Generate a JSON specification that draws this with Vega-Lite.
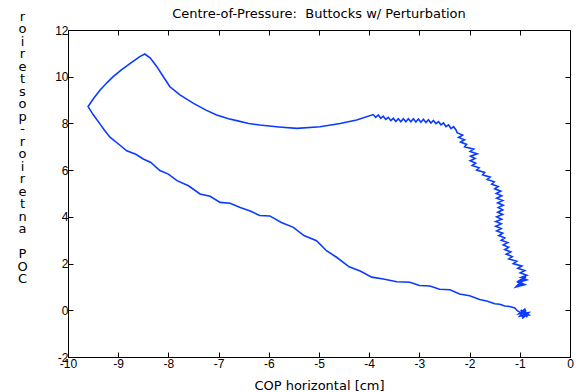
{
  "$schema": "https://vega.github.io/schema/vega-lite/v6.json",
  "width": 502,
  "height": 327,
  "autosize": "none",
  "padding": {"left": 68, "top": 30, "right": 9, "bottom": 35},
  "background": "white",
  "config": {
    "view": {"stroke": "black", "strokeWidth": 1},
    "font": "Liberation Sans",
    "axis": {
      "grid": false,
      "domainColor": "black",
      "tickColor": "black",
      "tickSize": -5,
      "labelColor": "black",
      "labelFont": "Liberation Sans",
      "labelFontSize": 12,
      "titleColor": "black",
      "titleFont": "DejaVu Sans",
      "titleFontSize": 13,
      "titleFontWeight": "normal"
    }
  },
  "title": {
    "text": "Centre-of-Pressure:\u00a0 Buttocks w/ Perturbation",
    "font": "DejaVu Sans",
    "fontSize": 13,
    "fontWeight": "normal",
    "color": "black",
    "anchor": "middle",
    "offset": -11
  },
  "data": {
    "values": [
      {"t": 1, "x": -0.85, "y": -0.3},
      {"t": 2, "x": -0.95, "y": -0.05},
      {"t": 3, "x": -0.82, "y": -0.2},
      {"t": 4, "x": -1.0, "y": -0.25},
      {"t": 5, "x": -0.88, "y": 0.0},
      {"t": 6, "x": -0.95, "y": -0.35},
      {"t": 7, "x": -0.82, "y": -0.1},
      {"t": 8, "x": -1.02, "y": -0.15},
      {"t": 9, "x": -0.9, "y": 0.05},
      {"t": 10, "x": -0.86, "y": -0.28},
      {"t": 11, "x": -0.98, "y": 0.02},
      {"t": 12, "x": -0.9, "y": -0.22},
      {"t": 13, "x": -1.05, "y": -0.02},
      {"t": 14, "x": -1.1, "y": 0.1},
      {"t": 15, "x": -1.2, "y": 0.16},
      {"t": 16, "x": -1.3, "y": 0.18},
      {"t": 17, "x": -1.4, "y": 0.26},
      {"t": 18, "x": -1.5, "y": 0.28},
      {"t": 19, "x": -1.66, "y": 0.4},
      {"t": 20, "x": -1.8, "y": 0.46},
      {"t": 21, "x": -2.0, "y": 0.62},
      {"t": 22, "x": -2.2, "y": 0.7},
      {"t": 23, "x": -2.39, "y": 0.88},
      {"t": 24, "x": -2.6, "y": 0.9},
      {"t": 25, "x": -2.79, "y": 1.04},
      {"t": 26, "x": -3.0, "y": 1.06},
      {"t": 27, "x": -3.19, "y": 1.2},
      {"t": 28, "x": -3.45, "y": 1.22},
      {"t": 29, "x": -3.72, "y": 1.34},
      {"t": 30, "x": -3.95, "y": 1.42},
      {"t": 31, "x": -4.18, "y": 1.68},
      {"t": 32, "x": -4.4, "y": 1.86},
      {"t": 33, "x": -4.65, "y": 2.27},
      {"t": 34, "x": -4.85, "y": 2.55},
      {"t": 35, "x": -5.05, "y": 2.98},
      {"t": 36, "x": -5.3, "y": 3.2},
      {"t": 37, "x": -5.51, "y": 3.55},
      {"t": 38, "x": -5.75, "y": 3.76},
      {"t": 39, "x": -5.98, "y": 4.04},
      {"t": 40, "x": -6.18, "y": 4.06},
      {"t": 41, "x": -6.37, "y": 4.25},
      {"t": 42, "x": -6.57, "y": 4.4},
      {"t": 43, "x": -6.77, "y": 4.58},
      {"t": 44, "x": -6.97, "y": 4.62},
      {"t": 45, "x": -7.17, "y": 4.88},
      {"t": 46, "x": -7.37, "y": 4.98},
      {"t": 47, "x": -7.6, "y": 5.33},
      {"t": 48, "x": -7.83, "y": 5.55},
      {"t": 49, "x": -8.0, "y": 5.83},
      {"t": 50, "x": -8.17, "y": 5.98},
      {"t": 51, "x": -8.35, "y": 6.33},
      {"t": 52, "x": -8.5, "y": 6.48},
      {"t": 53, "x": -8.65, "y": 6.68},
      {"t": 54, "x": -8.83, "y": 6.83},
      {"t": 55, "x": -9.0, "y": 7.13},
      {"t": 56, "x": -9.16, "y": 7.4},
      {"t": 57, "x": -9.28, "y": 7.73},
      {"t": 58, "x": -9.36, "y": 7.97},
      {"t": 59, "x": -9.5, "y": 8.38},
      {"t": 60, "x": -9.6, "y": 8.72},
      {"t": 61, "x": -9.48, "y": 9.1},
      {"t": 62, "x": -9.36, "y": 9.43},
      {"t": 63, "x": -9.22, "y": 9.75},
      {"t": 64, "x": -9.1, "y": 10.0},
      {"t": 65, "x": -8.93, "y": 10.3},
      {"t": 66, "x": -8.76, "y": 10.57},
      {"t": 67, "x": -8.57, "y": 10.86},
      {"t": 68, "x": -8.47, "y": 10.97},
      {"t": 69, "x": -8.36, "y": 10.8},
      {"t": 70, "x": -8.23, "y": 10.43},
      {"t": 71, "x": -8.1, "y": 10.0},
      {"t": 72, "x": -7.97, "y": 9.57},
      {"t": 73, "x": -7.77, "y": 9.22},
      {"t": 74, "x": -7.5, "y": 8.86},
      {"t": 75, "x": -7.25, "y": 8.57},
      {"t": 76, "x": -7.04, "y": 8.36},
      {"t": 77, "x": -6.8, "y": 8.2},
      {"t": 78, "x": -6.64, "y": 8.12},
      {"t": 79, "x": -6.4, "y": 8.0},
      {"t": 80, "x": -6.18, "y": 7.93},
      {"t": 81, "x": -5.8, "y": 7.85},
      {"t": 82, "x": -5.44, "y": 7.79},
      {"t": 83, "x": -4.98, "y": 7.86},
      {"t": 84, "x": -4.58, "y": 8.0},
      {"t": 85, "x": -4.25, "y": 8.15},
      {"t": 86, "x": -3.92, "y": 8.38},
      {"t": 87, "x": -3.87, "y": 8.26},
      {"t": 88, "x": -3.82, "y": 8.36},
      {"t": 89, "x": -3.77, "y": 8.22},
      {"t": 90, "x": -3.72, "y": 8.31},
      {"t": 91, "x": -3.67, "y": 8.17},
      {"t": 92, "x": -3.62, "y": 8.26},
      {"t": 93, "x": -3.57, "y": 8.12},
      {"t": 94, "x": -3.52, "y": 8.22},
      {"t": 95, "x": -3.47, "y": 8.08},
      {"t": 96, "x": -3.42, "y": 8.2},
      {"t": 97, "x": -3.37, "y": 8.07},
      {"t": 98, "x": -3.32, "y": 8.2},
      {"t": 99, "x": -3.27, "y": 8.07},
      {"t": 100, "x": -3.22, "y": 8.2},
      {"t": 101, "x": -3.17, "y": 8.07},
      {"t": 102, "x": -3.12, "y": 8.2},
      {"t": 103, "x": -3.07, "y": 8.06},
      {"t": 104, "x": -3.02, "y": 8.19},
      {"t": 105, "x": -2.97, "y": 8.05},
      {"t": 106, "x": -2.92, "y": 8.18},
      {"t": 107, "x": -2.87, "y": 8.04},
      {"t": 108, "x": -2.82, "y": 8.16},
      {"t": 109, "x": -2.77, "y": 8.02},
      {"t": 110, "x": -2.72, "y": 8.13},
      {"t": 111, "x": -2.67, "y": 7.99},
      {"t": 112, "x": -2.62, "y": 8.08},
      {"t": 113, "x": -2.57, "y": 7.94},
      {"t": 114, "x": -2.52, "y": 8.02},
      {"t": 115, "x": -2.47, "y": 7.86},
      {"t": 116, "x": -2.42, "y": 7.94},
      {"t": 117, "x": -2.37, "y": 7.78},
      {"t": 118, "x": -2.32, "y": 7.86},
      {"t": 119, "x": -2.27, "y": 7.72},
      {"t": 120, "x": -2.25, "y": 7.6},
      {"t": 121, "x": -2.14, "y": 7.5},
      {"t": 122, "x": -2.22, "y": 7.4},
      {"t": 123, "x": -2.1, "y": 7.3},
      {"t": 124, "x": -2.18, "y": 7.2},
      {"t": 125, "x": -2.06, "y": 7.1},
      {"t": 126, "x": -2.1, "y": 7.0},
      {"t": 127, "x": -1.92, "y": 6.9},
      {"t": 128, "x": -1.99, "y": 6.8},
      {"t": 129, "x": -1.85, "y": 6.7},
      {"t": 130, "x": -1.98, "y": 6.6},
      {"t": 131, "x": -1.89, "y": 6.5},
      {"t": 132, "x": -1.99, "y": 6.4},
      {"t": 133, "x": -1.88, "y": 6.3},
      {"t": 134, "x": -1.95, "y": 6.2},
      {"t": 135, "x": -1.81, "y": 6.1},
      {"t": 136, "x": -1.86, "y": 6.0},
      {"t": 137, "x": -1.7, "y": 5.9},
      {"t": 138, "x": -1.74, "y": 5.8},
      {"t": 139, "x": -1.59, "y": 5.7},
      {"t": 140, "x": -1.65, "y": 5.6},
      {"t": 141, "x": -1.51, "y": 5.5},
      {"t": 142, "x": -1.56, "y": 5.4},
      {"t": 143, "x": -1.43, "y": 5.3},
      {"t": 144, "x": -1.5, "y": 5.2},
      {"t": 145, "x": -1.38, "y": 5.1},
      {"t": 146, "x": -1.47, "y": 5.0},
      {"t": 147, "x": -1.36, "y": 4.9},
      {"t": 148, "x": -1.46, "y": 4.8},
      {"t": 149, "x": -1.34, "y": 4.7},
      {"t": 150, "x": -1.44, "y": 4.6},
      {"t": 151, "x": -1.33, "y": 4.5},
      {"t": 152, "x": -1.43, "y": 4.4},
      {"t": 153, "x": -1.34, "y": 4.3},
      {"t": 154, "x": -1.44, "y": 4.2},
      {"t": 155, "x": -1.34, "y": 4.1},
      {"t": 156, "x": -1.46, "y": 4.0},
      {"t": 157, "x": -1.36, "y": 3.9},
      {"t": 158, "x": -1.48, "y": 3.8},
      {"t": 159, "x": -1.37, "y": 3.7},
      {"t": 160, "x": -1.48, "y": 3.6},
      {"t": 161, "x": -1.37, "y": 3.5},
      {"t": 162, "x": -1.46, "y": 3.4},
      {"t": 163, "x": -1.34, "y": 3.3},
      {"t": 164, "x": -1.42, "y": 3.2},
      {"t": 165, "x": -1.3, "y": 3.1},
      {"t": 166, "x": -1.37, "y": 3.0},
      {"t": 167, "x": -1.24, "y": 2.9},
      {"t": 168, "x": -1.33, "y": 2.8},
      {"t": 169, "x": -1.22, "y": 2.7},
      {"t": 170, "x": -1.3, "y": 2.6},
      {"t": 171, "x": -1.18, "y": 2.5},
      {"t": 172, "x": -1.27, "y": 2.4},
      {"t": 173, "x": -1.15, "y": 2.3},
      {"t": 174, "x": -1.22, "y": 2.2},
      {"t": 175, "x": -1.06, "y": 2.1},
      {"t": 176, "x": -1.13, "y": 2.0},
      {"t": 177, "x": -0.96, "y": 1.9},
      {"t": 178, "x": -1.04, "y": 1.8},
      {"t": 179, "x": -0.9, "y": 1.7},
      {"t": 180, "x": -0.99, "y": 1.6},
      {"t": 181, "x": -0.86, "y": 1.5},
      {"t": 182, "x": -0.98, "y": 1.4},
      {"t": 183, "x": -0.86, "y": 1.3},
      {"t": 184, "x": -1.02, "y": 1.2},
      {"t": 185, "x": -0.9, "y": 1.1},
      {"t": 186, "x": -1.08, "y": 1.0},
      {"t": 187, "x": -0.95, "y": 1.3},
      {"t": 188, "x": -1.06, "y": 1.2},
      {"t": 189, "x": -0.88, "y": 1.45},
      {"t": 190, "x": -1.04, "y": 1.0},
      {"t": 191, "x": -0.96, "y": 1.15}
    ]
  },
  "layer": [
    {
      "mark": {"type": "line", "color": "#0a3bff", "strokeWidth": 1.6},
      "encoding": {
        "order": {"field": "t", "type": "quantitative"},
        "x": {
          "field": "x",
          "type": "quantitative",
          "scale": {"domain": [-10, 0], "nice": false, "zero": false},
          "axis": {
            "orient": "bottom",
            "values": [-10, -9, -8, -7, -6, -5, -4, -3, -2, -1, 0],
            "labelExpr": "'' + datum.value",
            "labelPadding": 6,
            "labelFlush": false,
            "title": "COP horizontal [cm]",
            "titleY": 32,
            "titleBaseline": "alphabetic"
          }
        },
        "y": {
          "field": "y",
          "type": "quantitative",
          "scale": {"domain": [-2, 12], "nice": false, "zero": false},
          "axis": {
            "orient": "left",
            "values": [-2, 0, 2, 4, 6, 8, 10, 12],
            "labelExpr": "'' + datum.value",
            "labelPadding": 5,
            "labelFlush": false,
            "title": ["r", "o", "i", "r", "e", "t", "s", "o", "p", "-", "r", "o", "i", "r", "e", "t", "n", "a", "\u200b", "P", "O", "C"],
            "titleAngle": 0,
            "titleAlign": "center",
            "titleBaseline": "alphabetic",
            "titleX": -46,
            "titleY": -10,
            "titleLineHeight": 12.5
          }
        }
      }
    },
    {
      "mark": {"type": "line", "strokeOpacity": 0},
      "encoding": {
        "order": {"field": "t", "type": "quantitative"},
        "x": {
          "field": "x",
          "type": "quantitative",
          "axis": {
            "orient": "top",
            "values": [-10, -9, -8, -7, -6, -5, -4, -3, -2, -1, 0],
            "labels": false,
            "domain": false,
            "title": null
          }
        },
        "y": {
          "field": "y",
          "type": "quantitative",
          "axis": {
            "orient": "right",
            "values": [-2, 0, 2, 4, 6, 8, 10, 12],
            "labels": false,
            "domain": false,
            "title": null
          }
        }
      }
    }
  ],
  "resolve": {"axis": {"x": "independent", "y": "independent"}}
}
